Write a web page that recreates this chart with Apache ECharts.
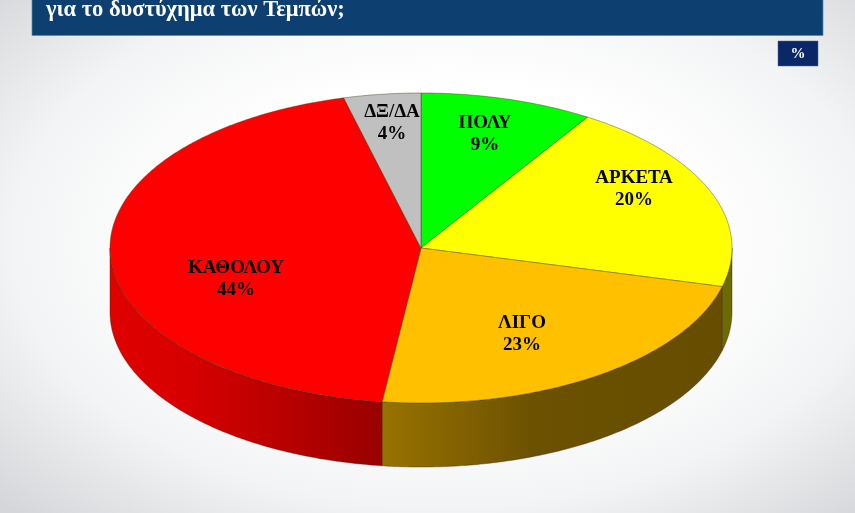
<!DOCTYPE html>
<html><head><meta charset="utf-8">
<style>
html,body{margin:0;padding:0;width:855px;height:513px;overflow:hidden;
background:radial-gradient(ellipse 72% 74% at 52% 47%,#ffffff 42%,#f3f4f5 70%,#d4d6d9 100%);}
#c{width:855px;height:513px;}
</style>
<script src="https://cdn.jsdelivr.net/npm/echarts@6/dist/echarts.min.js"></script>
</head><body><div id="c"></div>
<script>
const categories = ['ΠΟΛΥ','ΑΡΚΕΤΑ','ΛΙΓΟ','ΚΑΘΟΛΟΥ','ΔΞ/ΔΑ'];
const values = [9,20,23,44,4];
const titleText = 'για το δυστύχημα των Τεμπών;';
const unitText = '%';

const topColors = ['#00ff00','#ffff00','#ffc000','#ff0000','#c0c0c0'];
const labelCenters = [[485,134],[634,189],[522,334],[236,279],[392,123]];
const cx=421, cy=248, rx=311, ry=155, depth=64;
const total = values.reduce((a,b)=>a+b,0);
const px = t => cx + rx*Math.sin(t);
const py = t => cy - ry*Math.cos(t);
const arcPts = (a,b,dy=0) => {
  const n = Math.max(2,Math.ceil(Math.abs(b-a)/0.01)), pts=[];
  for(let i=0;i<=n;i++){const t=a+(b-a)*i/n; pts.push([px(t),py(t)+dy]);}
  return pts;
};
let acc=0;
const ranges = values.map(v=>{const a=acc/total*2*Math.PI; acc+=v; return [a,acc/total*2*Math.PI];});
const shade = (col,f)=>{const n=parseInt(col.slice(1),16);
  return 'rgb('+[(n>>16)&255,(n>>8)&255,n&255].map(c=>Math.round(c*f)).join(',')+')';};
// side wall shading, stops read left to right along each visible wall
const sideStops = {
  1:[[0,0.42],[1,0.42]],
  2:[[0,0.6],[0.45,0.42],[1,0.4]],
  3:[[0,0.88],[0.3,0.84],[1,0.6]]
};

function renderItem(params){
  const i=params.dataIndex, [a,b]=ranges[i], children=[];
  const lo=Math.max(a,Math.PI/2), hi=Math.min(b,3*Math.PI/2);
  if(hi>lo && sideStops[i]){
    const top=arcPts(lo,hi), bot=arcPts(hi,lo,depth);
    children.push({type:'polygon',z2:1,shape:{points:top.concat(bot)},
      style:{fill:{type:'linear',x:0,y:0,x2:1,y2:0,colorStops:sideStops[i].map(s=>(
        {offset:s[0],color:shade(topColors[i],s[1])}))},
        stroke:'rgba(60,30,0,0.55)',lineWidth:0.7}});
  }
  const pts=[[cx,cy]].concat(arcPts(a,b));
  children.push({type:'polygon',z2:2,shape:{points:pts},
    style:{fill:topColors[i],stroke:'rgba(60,60,0,0.6)',lineWidth:0.7}});
  const c=labelCenters[i];
  children.push({type:'text',z2:3,x:c[0],y:c[1],style:{
    text:categories[i]+'\n'+values[i]+'%',align:'center',verticalAlign:'middle',
    font:'bold 19px "Liberation Serif"',lineHeight:22,fill:'#050505'}});
  return {type:'group',children};
}

const chart=echarts.init(document.getElementById('c'),null,{renderer:'canvas'});
chart.setOption({
  animation:false,
  backgroundColor:'transparent',
  title:{text:titleText,left:41,top:-6,textStyle:{color:'#ffffff',fontFamily:'Liberation Serif',fontWeight:'bold',fontSize:22.5}},
  graphic:[
    {type:'rect',z:-1,shape:{x:32,y:-2,width:791,height:37.5},style:{fill:'#0d3f70',stroke:'#5f86a8',lineWidth:0.7}},
    {type:'rect',z:1,shape:{x:778,y:41,width:40,height:25},style:{fill:'#0a2768',stroke:'#4a6a9a',lineWidth:0.5}},
    {type:'text',z:2,x:798,y:54,style:{text:unitText,align:'center',verticalAlign:'middle',font:'bold 15px "Liberation Serif"',fill:'#ffffff'}}
  ],
  series:[{type:'custom',coordinateSystem:'none',renderItem,
    data:values.map((v,i)=>({name:categories[i],value:v}))}]
});
</script></body></html>
